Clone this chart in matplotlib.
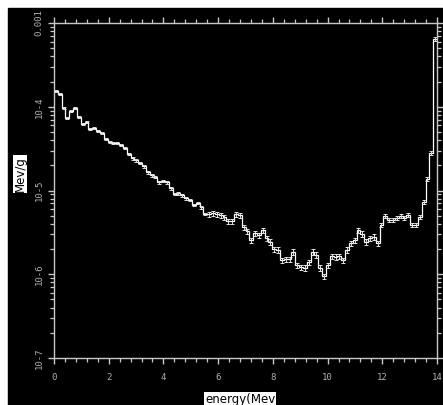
import matplotlib
matplotlib.use("Agg")
import matplotlib.pyplot as plt
import numpy as np
from matplotlib import font_manager
from matplotlib.patches import Rectangle
from matplotlib.ticker import LogLocator, FixedLocator, MultipleLocator, NullFormatter

# energy bins: 100 bins of 0.14 MeV from 0 to 14 MeV
e_min, e_max, n_bins = 0.0, 14.0, 100

# dose per bin (Mev/g)
dose = [
    1.54e-4, 1.42e-4, 9.66e-5, 7.34e-5, 8.90e-5, 9.66e-5, 7.55e-5, 6.22e-5, 6.58e-5, 5.42e-5,
    5.57e-5, 5.13e-5, 4.86e-5, 4.12e-5, 3.79e-5, 3.69e-5, 3.69e-5, 3.49e-5, 3.21e-5, 2.73e-5,
    2.44e-5, 2.31e-5, 2.13e-5, 1.96e-5, 1.66e-5, 1.53e-5, 1.45e-5, 1.26e-5, 1.30e-5, 1.26e-5,
    1.07e-5, 9.08e-6, 9.33e-6, 8.83e-6, 8.13e-6, 7.70e-6, 6.71e-6, 7.10e-6, 6.35e-6, 5.24e-6,
    5.24e-6, 5.39e-6, 5.24e-6, 5.10e-6, 4.83e-6, 4.32e-6, 4.32e-6, 5.24e-6, 5.10e-6, 3.66e-6,
    3.28e-6, 2.56e-6, 3.11e-6, 2.94e-6, 3.37e-6, 2.71e-6, 2.43e-6, 2.00e-6, 1.95e-6, 1.48e-6,
    1.52e-6, 1.52e-6, 1.85e-6, 1.29e-6, 1.22e-6, 1.19e-6, 1.40e-6, 1.85e-6, 1.70e-6, 1.19e-6,
    9.53e-7, 1.29e-6, 1.65e-6, 1.61e-6, 1.65e-6, 1.48e-6, 1.95e-6, 2.36e-6, 2.56e-6, 3.37e-6,
    3.03e-6, 2.43e-6, 2.71e-6, 2.79e-6, 2.36e-6, 3.87e-6, 4.96e-6, 4.45e-6, 4.45e-6, 4.70e-6,
    4.96e-6, 4.70e-6, 5.10e-6, 3.87e-6, 3.87e-6, 4.83e-6, 7.29e-6, 1.37e-5, 2.81e-5, 6.44e-4,
]

# relative statistical error, roughly as seen on the error bars
rel_err = [0.02] * 20 + [0.04] * 20 + [0.07] * 45 + [0.05] * 15

y_ticks = [1e-7, 1e-6, 1e-5, 1e-4, 1e-3]
y_tick_labels = ["10-7", "10-6", "10-5", "10-4", "0.001"]
x_ticks = [0, 2, 4, 6, 8, 10, 12, 14]

edges = np.linspace(e_min, e_max, n_bins + 1)
centers = 0.5 * (edges[:-1] + edges[1:])
dose = np.array(dose)
err = dose * np.array(rel_err)

# narrow font for the tick labels if there is one
names = {f.name for f in font_manager.fontManager.ttflist}
tick_font = "Liberation Sans Narrow" if "Liberation Sans Narrow" in names else "DejaVu Sans Mono"
tick_size = 7.5 if tick_font == "Liberation Sans Narrow" else 6.5

W, H = 443, 405
fig = plt.figure(figsize=(W / 100, H / 100), dpi=100, facecolor="white")
fig.add_artist(Rectangle((8 / W, 0), 1 - 8 / W, 1 - 8 / H, transform=fig.transFigure,
                         color="black", zorder=-5))

ax = fig.add_axes([54 / W, 1 - 358 / H, (437 - 54) / W, (358 - 23) / H])
ax.set_facecolor("black")

ax.stairs(dose, edges, baseline=None, color="white", lw=0.9)
ax.errorbar(centers, dose, yerr=err, fmt="none", ecolor="#e0e0e0",
            elinewidth=0.7, capsize=1.3, capthick=0.7)

ax.set_yscale("log")
ax.set_xlim(e_min, e_max)
ax.set_ylim(1e-7, 1e-3)

grey = "#c8c8c8"
for s in ax.spines.values():
    s.set_color(grey)
    s.set_linewidth(1.0)

ax.xaxis.set_major_locator(FixedLocator(x_ticks))
ax.xaxis.set_minor_locator(MultipleLocator(0.4))
ax.set_xticks(x_ticks)
ax.set_xticklabels([str(t) for t in x_ticks])
ax.set_yticks(y_ticks)
ax.set_yticklabels(y_tick_labels, rotation=90, va="center")
ax.yaxis.set_minor_locator(LogLocator(base=10, subs=np.arange(2, 10)))
ax.yaxis.set_minor_formatter(NullFormatter())

ax.tick_params(which="both", direction="out", colors=grey, top=True, right=True,
               labelcolor="#b0b0b0", labelsize=tick_size)
ax.tick_params(which="major", length=4.5, width=1.0)
ax.tick_params(which="minor", length=3, width=0.9)
ax.tick_params(axis="x", pad=6)
ax.tick_params(axis="y", pad=3)
for lab in ax.get_xticklabels() + ax.get_yticklabels():
    lab.set_family(tick_font)

fig.text(20 / W, 1 - 174 / H, "Mev/g", rotation=90, ha="center", va="center",
         fontsize=8.5, color="black",
         bbox=dict(facecolor="white", edgecolor="none", pad=0.6))
fig.text(240 / W, 1 - 399 / H, "energy(Mev", ha="center", va="center",
         fontsize=8.5, color="black",
         bbox=dict(facecolor="white", edgecolor="none", pad=0.6))

fig.savefig("out.png", dpi=100, facecolor="white")
